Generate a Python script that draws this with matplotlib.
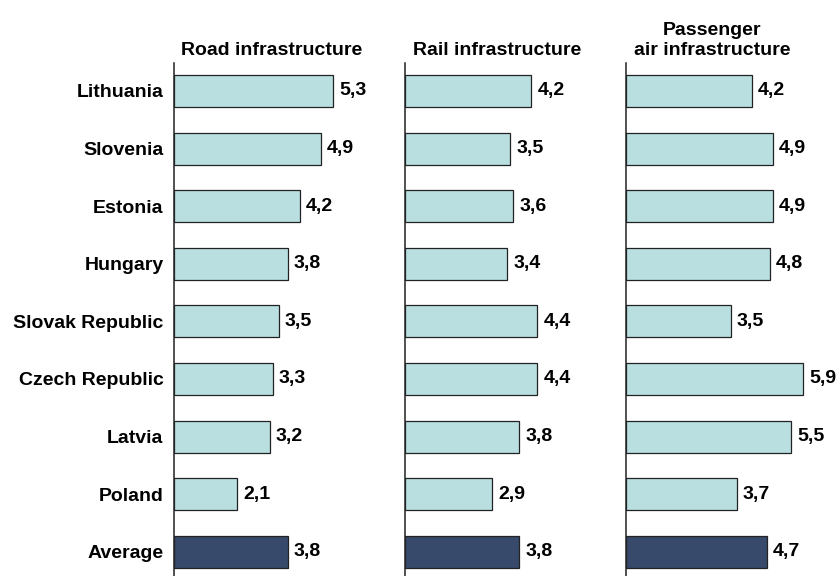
import numpy as np
import matplotlib.pyplot as plt

plt.rcParams['font.family'] = ['Liberation Sans', 'DejaVu Sans']
plt.rcParams['font.weight'] = 'bold'

countries = ['Lithuania', 'Slovenia', 'Estonia', 'Hungary', 'Slovak Republic',
             'Czech Republic', 'Latvia', 'Poland', 'Average']
titles = ['Road infrastructure', 'Rail infrastructure', 'Passenger\nair infrastructure']
road = [5.3, 4.9, 4.2, 3.8, 3.5, 3.3, 3.2, 2.1, 3.8]
rail = [4.2, 3.5, 3.6, 3.4, 4.4, 4.4, 3.8, 2.9, 3.8]
air = [4.2, 4.9, 4.9, 4.8, 3.5, 5.9, 5.5, 3.7, 4.7]

light = '#b9dfe1'
dark = '#374a6b'
fs = 14

W, H = 837, 576
fig = plt.figure(figsize=(W / 100, H / 100), dpi=100)

# panel left edges (px), each panel 7 units wide at 30 px/unit
lefts = [174, 405.5, 626]
title_x = [3.27, 3.07, 2.86]
top = 63

y = np.arange(len(countries))
colors = [light] * (len(countries) - 1) + [dark]

for i, (vals, title) in enumerate(zip([road, rail, air], titles)):
    ax = fig.add_axes([lefts[i] / W, 0, 210 / W, (H - top) / H])
    ax.barh(y, vals, height=0.556, color=colors, edgecolor='#222222', linewidth=0.9)
    ax.set_xlim(0, 7)
    ax.set_ylim(-0.486 + (H - top) / 57.6, -0.486)
    for s in ['top', 'right', 'bottom']:
        ax.spines[s].set_visible(False)
    ax.spines['left'].set_linewidth(1.1)
    ax.spines['left'].set_color('#222222')
    ax.set_xticks([])
    ax.set_yticks(y)
    if i == 0:
        ax.set_yticklabels(countries, fontsize=fs, fontweight='bold')
        ax.tick_params(axis='y', length=0, pad=7.5)
    else:
        ax.set_yticklabels([])
        ax.tick_params(axis='y', length=0)
    for yy, v in zip(y, vals):
        ax.annotate(f'{v:.1f}'.replace('.', ','), (v, yy), xytext=(4.3, 0),
                    textcoords='offset points', va='center', ha='left',
                    fontsize=fs, fontweight='bold')
    # title sits a few pixels above the top of the axis line
    ax.text(title_x[i], 1 + 8 / (H - top), title, transform=ax.get_xaxis_transform(),
            ha='center', va='baseline', fontsize=fs, fontweight='bold', linespacing=1.2)

fig.savefig('out.png', dpi=100)
